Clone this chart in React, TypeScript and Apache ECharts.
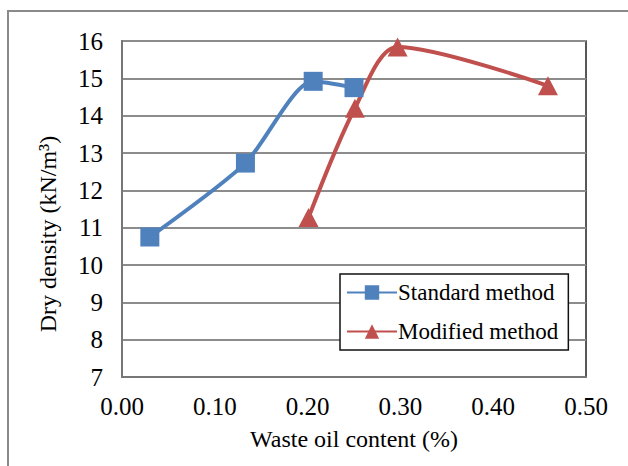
import React, { useEffect, useRef } from "react";
import * as echarts from "echarts";

const standardX = [0.03, 0.133, 0.206, 0.25];
const standardY = [10.75, 12.73, 14.92, 14.75];
const modifiedX = [0.201, 0.251, 0.297, 0.459];
const modifiedY = [11.27, 14.2, 15.84, 14.8];
const seriesNames = ["Standard method", "Modified method"];
const xAxisName = "Waste oil content (%)";
const yAxisName = "Dry density (kN/m³)";

const FONT = "Liberation Serif";

export default function App() {
  const ref = useRef<HTMLDivElement>(null);
  useEffect(() => {
    document.body.style.margin = "0";
    const chart = echarts.init(ref.current!, null, { renderer: "svg" });
    const pair = (xs: number[], ys: number[]) => xs.map((x, i) => [x, ys[i]]);
    chart.setOption({
      animation: false,
      backgroundColor: "#fff",
      graphic: [
        {
          type: "rect",
          shape: { x: 8, y: 11, width: 700, height: 600 },
          style: { fill: "none", stroke: "#8a8a8a", lineWidth: 2 },
          silent: true,
        },
        {
          type: "text",
          x: 48,
          y: 234,
          rotation: Math.PI / 2,
          style: {
            text: yAxisName,
            fontFamily: FONT,
            fontSize: 24,
            fill: "#000",
            align: "center",
            verticalAlign: "middle",
          },
          silent: true,
        },
      ],
      grid: {
        left: 122,
        top: 41,
        width: 464,
        height: 336,
        show: true,
        borderColor: "#222",
        borderWidth: 1.5,
      },
      legend: {
        orient: "vertical",
        left: 340,
        top: 274,
        width: 231,
        padding: [7, 10, 7, 6],
        itemGap: 16,
        itemWidth: 50,
        itemHeight: 18,
        backgroundColor: "#fff",
        borderColor: "#111",
        borderWidth: 1.5,
        textStyle: { fontFamily: FONT, fontSize: 23, color: "#000", padding: [0, 0, 0, -4] },
        data: seriesNames,
      },
      xAxis: {
        type: "value",
        min: 0,
        max: 0.5,
        interval: 0.1,
        name: xAxisName,
        nameLocation: "middle",
        nameGap: 50,
        nameTextStyle: { fontFamily: FONT, fontSize: 24, color: "#000" },
        axisLine: { show: true, onZero: false, lineStyle: { color: "#777", width: 2 } },
        axisTick: { show: false },
        splitLine: { show: false },
        axisLabel: {
          show: true,
          fontFamily: FONT,
          fontSize: 25,
          color: "#000",
          margin: 17,
          hideOverlap: false,
          formatter: (v: number) => v.toFixed(2),
        },
      },
      yAxis: {
        type: "value",
        min: 7,
        max: 16,
        interval: 1,
        axisLine: { show: true, lineStyle: { color: "#777", width: 2 } },
        axisTick: { show: false },
        splitLine: { show: true, lineStyle: { color: "#8c8c8c", width: 2 } },
        axisLabel: {
          show: true,
          fontFamily: FONT,
          fontSize: 25,
          color: "#000",
          margin: 19,
          hideOverlap: false,
        },
      },
      series: [
        {
          name: seriesNames[0],
          type: "line",
          data: pair(standardX, standardY),
          smooth: 0.25,
          symbol: "rect",
          symbolSize: 19,
          lineStyle: { color: "#4F81BD", width: 4 },
          itemStyle: { color: "#4F81BD" },
        },
        {
          name: seriesNames[1],
          type: "line",
          data: pair(modifiedX, modifiedY),
          smooth: 0.3,
          symbol: "triangle",
          symbolSize: [20, 19],
          lineStyle: { color: "#C0504D", width: 4 },
          itemStyle: { color: "#C0504D" },
        },
      ],
    });
    return () => chart.dispose();
  }, []);
  return <div ref={ref} style={{ width: 628, height: 466 }} />;
}
